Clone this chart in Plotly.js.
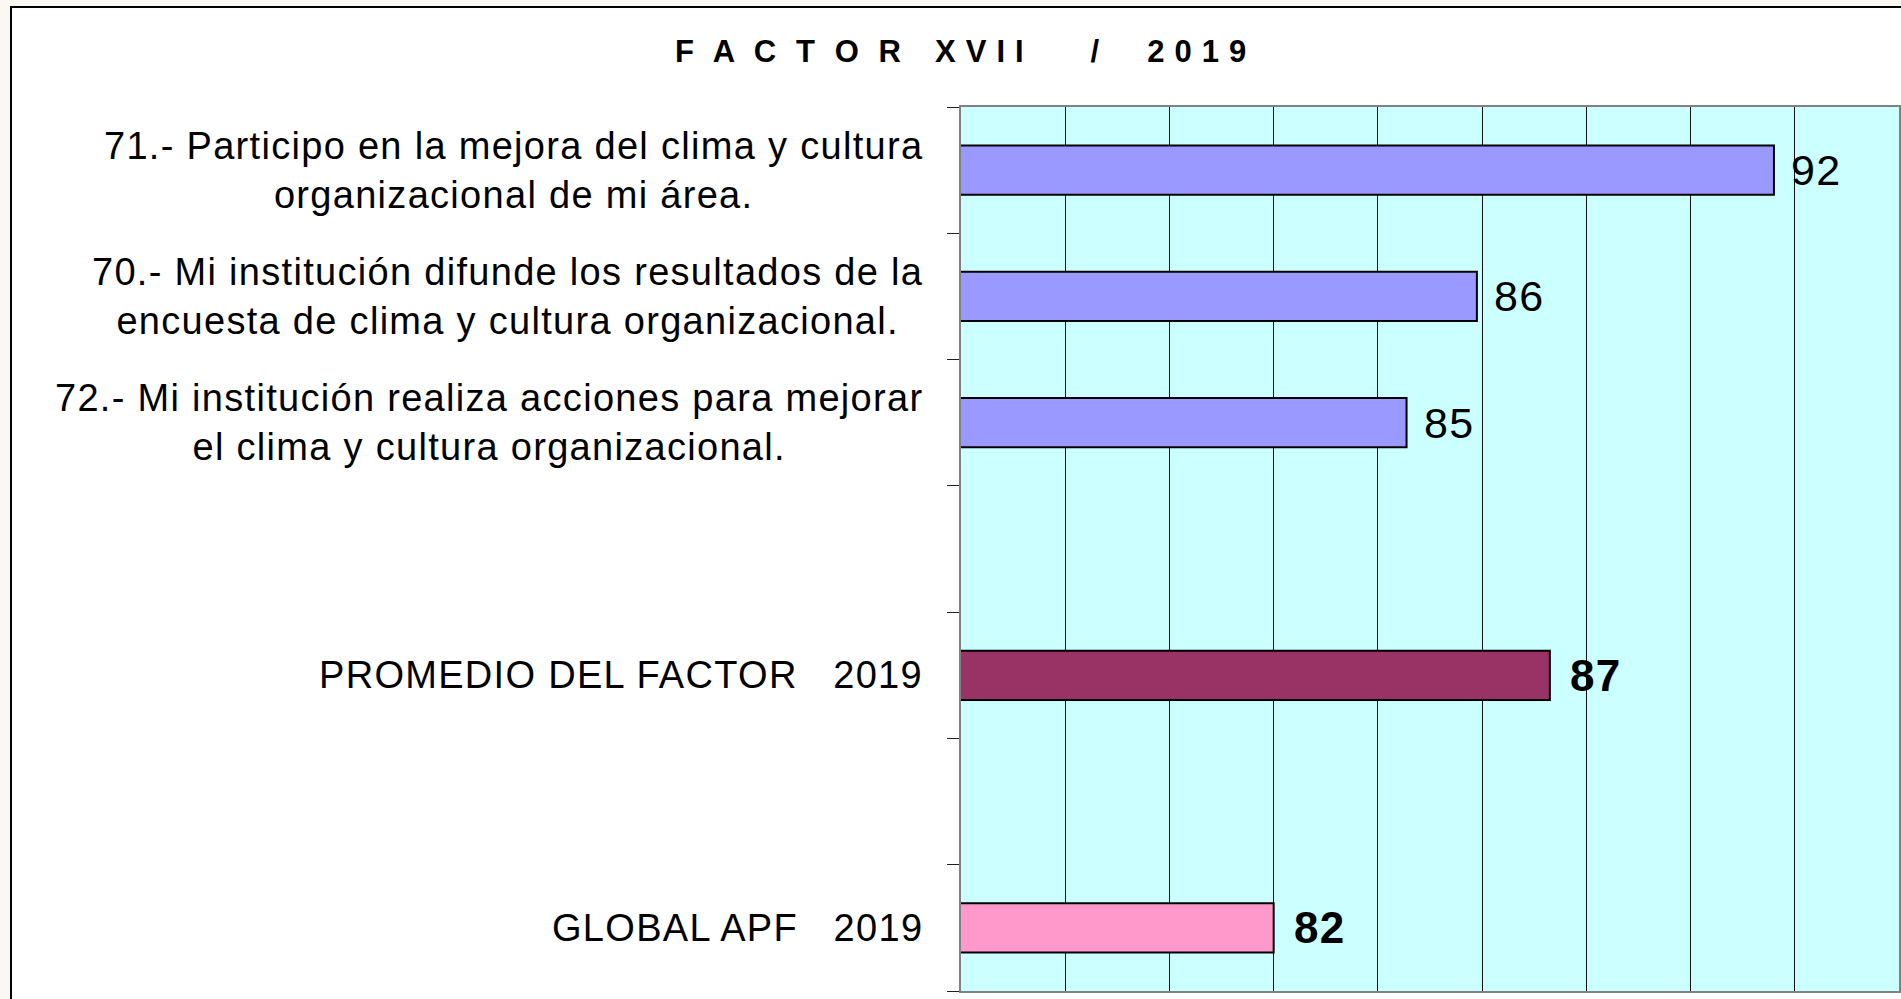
<!DOCTYPE html>
<html>
<head>
<meta charset="utf-8">
<script src="https://cdn.plot.ly/plotly-3.0.1.min.js"></script>
<style>
  html, body { margin:0; padding:0; width:1901px; height:999px; overflow:hidden; background:#fbf8f3; }
  #frame { position:absolute; left:10px; top:6px; width:2000px; height:1100px; border:2px solid #000; background:#fff; z-index:0; }
  #chart { position:absolute; left:0; top:0; width:1901px; height:999px; z-index:1; }
  .gtitle { letter-spacing: 5.6px; }
  .annotation-text { letter-spacing: 1.3px; }
</style>
</head>
<body>
<div id="frame"></div>
<div id="chart"></div>
<script>
// ---- data ----
const titleWord = 'F A C T O R';
const titleNumeral = 'XVII';
const titleYear = '2019';
const labels = [
  '71.- Participo en la mejora del clima y cultura<br>organizacional de mi área.',
  '70.- Mi institución difunde los resultados de la<br>encuesta de clima y cultura organizacional.',
  '72.- Mi institución realiza acciones para mejorar<br>el clima y cultura organizacional.',
  '',
  'PROMEDIO DEL FACTOR\u00a0\u00a0\u00a02019',
  '',
  'GLOBAL APF\u00a0\u00a0\u00a02019'
];
const values = [91.6, 85.9, 84.55, null, 87.3, null, 82.0];
const boldRows = [false, false, false, false, true, false, true];
const xTicks = [76, 78, 80, 82, 84, 86, 88, 90, 92, 94];

// ---- style ----
const barColors = ['#9999FF', '#9999FF', '#9999FF', '#9999FF', '#993366', '#993366', '#FF99CC'];
const FONT = 'Liberation Sans, Arial, sans-serif';
const NB = '\u00a0';
const wide = s => '<span style="letter-spacing:10px">' + s + '</span>';

const rows = labels.map((_, i) => i);

const trace = {
  type: 'bar',
  orientation: 'h',
  x: values,
  y: rows,
  width: 0.39,
  marker: { color: barColors, line: { color: '#000', width: 2 } },
  hoverinfo: 'skip'
};

const annotations = [];
labels.forEach((t, i) => {
  if (t) annotations.push({
    text: t, xref: 'paper', x: 0, xshift: -36, xanchor: 'right',
    yref: 'y', y: rows[i], yanchor: 'middle', align: 'center', showarrow: false,
    font: { family: FONT, size: 38, color: '#000' }
  });
});
values.forEach((v, i) => {
  if (v !== null) annotations.push({
    text: boldRows[i] ? '<b>' + Math.round(v) + '</b>' : String(Math.round(v)),
    xref: 'x', x: v, xshift: boldRows[i] ? 18 : 15, xanchor: 'left',
    yref: 'y', y: rows[i], yanchor: 'middle', showarrow: false,
    font: { family: FONT, size: boldRows[i] ? 44 : 43, color: '#000' }
  });
});

const tickBounds = [];
for (let k = 0; k <= labels.length; k++) tickBounds.push(k - 0.5);

const titleText = '<b>' + titleWord + NB + NB + wide(titleNumeral) + NB + NB + NB + NB + '/' + NB + NB + NB + wide(titleYear) + '</b>';

const layout = {
  width: 1901, height: 999,
  margin: { l: 961, r: 2, t: 107, b: 8, pad: 0 },
  paper_bgcolor: 'rgba(0,0,0,0)',
  plot_bgcolor: '#CCFFFF',
  showlegend: false,
  title: {
    text: titleText,
    font: { family: FONT, size: 31, color: '#000' },
    xref: 'container', x: 0.508, xanchor: 'center',
    yref: 'container', y: 1 - 51 / 999, yanchor: 'middle'
  },
  xaxis: {
    range: [xTicks[0], xTicks[xTicks.length - 1]],
    tickvals: xTicks,
    showticklabels: false,
    ticks: '',
    showgrid: true, gridcolor: '#111', gridwidth: 1,
    zeroline: false,
    showline: true, mirror: true, linecolor: '#808080', linewidth: 2,
    fixedrange: true
  },
  yaxis: {
    range: [labels.length - 0.5, -0.5],
    tickvals: tickBounds,
    showticklabels: false,
    ticks: 'outside', ticklen: 12, tickcolor: '#222', tickwidth: 1,
    showgrid: false, zeroline: false,
    showline: true, mirror: true, linecolor: '#808080', linewidth: 2,
    fixedrange: true
  },
  annotations: annotations
};

Plotly.newPlot('chart', [trace], layout, { displayModeBar: false, staticPlot: true });
</script>
</body>
</html>
